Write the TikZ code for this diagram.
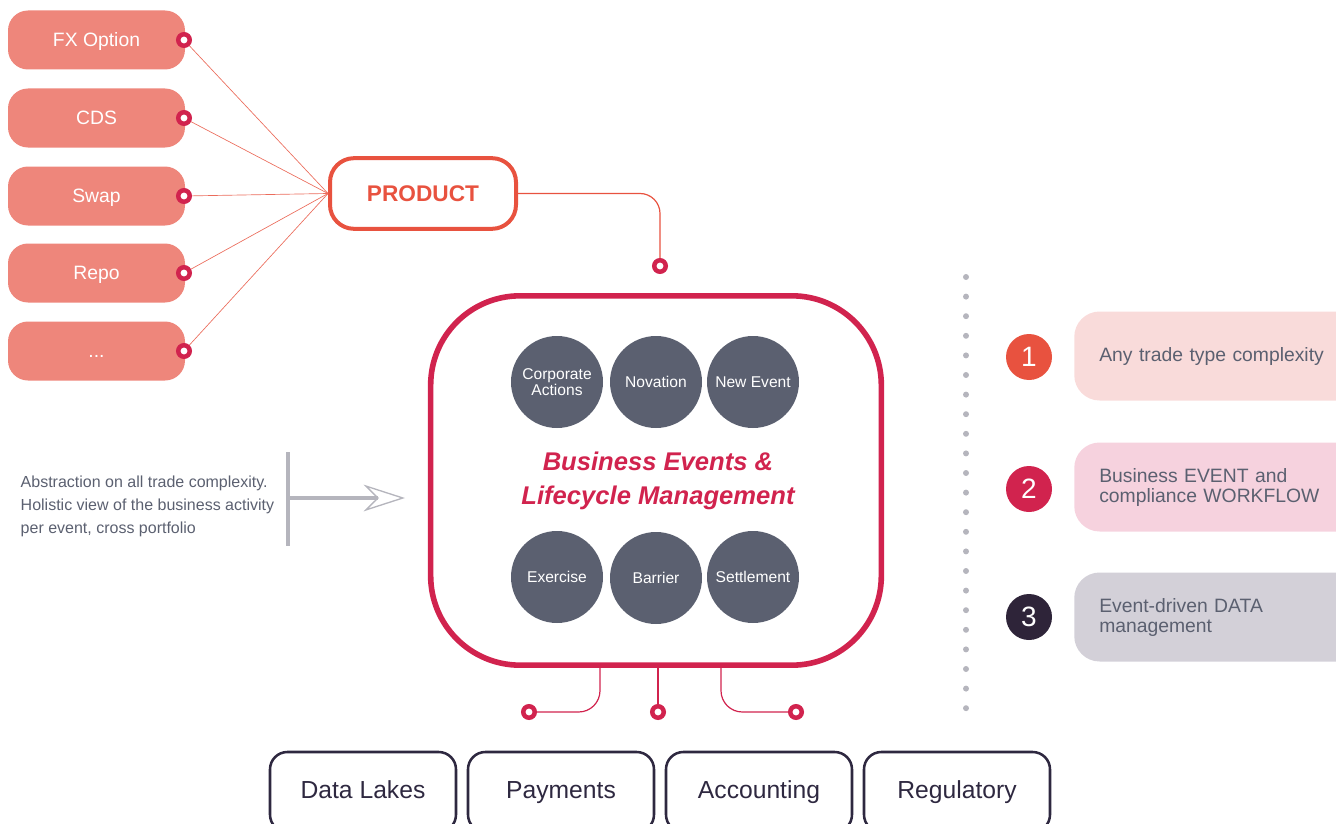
\documentclass[tikz,border=0pt]{standalone}
\usepackage{fontspec}
\setmainfont{Liberation Sans}
\usetikzlibrary{arrows.meta,calc}

\definecolor{pillred}{RGB}{238,134,123}
\definecolor{prodred}{RGB}{232,82,63}
\definecolor{crimson}{RGB}{209,35,78}
\definecolor{slate}{RGB}{91,96,112}
\definecolor{ink}{RGB}{46,40,64}
\definecolor{plum}{RGB}{46,36,57}
\definecolor{barg}{RGB}{181,181,189}
\definecolor{noteA}{RGB}{249,219,218}
\definecolor{noteB}{RGB}{246,210,222}
\definecolor{noteC}{RGB}{211,208,216}

\tikzset{
  pill/.style={fill=pillred, rounded corners=15pt, minimum width=132.75pt,
    minimum height=44.25pt, text=white, text height=12pt, text depth=2pt,
    font=\fontsize{14.5}{18}\selectfont},
  pin/.style={circle, draw=crimson, fill=white, line width=3.4pt,
    minimum size=8.6pt, inner sep=0pt},
  feed/.style={draw=prodred!85, line width=0.5pt},
  wire/.style={draw=crimson, line width=0.9pt},
  event/.style={circle, fill=slate, minimum size=69pt, inner sep=0pt,
    text=white, align=center, font=\fontsize{11.7}{11.5}\selectfont},
  sink/.style={draw=ink, line width=1.9pt, rounded corners=13pt,
    minimum width=139.5pt, minimum height=60pt, text=ink,
    text height=13pt, text depth=3.5pt, font=\fontsize{18.5}{20}\selectfont},
  badge/.style={circle, minimum size=34.5pt, inner sep=0pt, text=white,
    font=\fontsize{21}{21}\selectfont},
  note/.style={anchor=west, rounded corners=19pt, minimum height=66.75pt,
    text width=187.5pt, inner xsep=18.75pt, align=left, text=slate,
    font=\fontsize{14.5}{15}\selectfont},
}

\begin{document}
\begin{tikzpicture}[x=0.75pt,y=0.75pt,yscale=-1,xscale=1]
\useasboundingbox (0,0) rectangle (1336,824);

% product pills and their pins
\foreach \name/\txt/\y in {fx/FX Option/40, cds/CDS/118, swap/Swap/196, repo/Repo/273}{
  \node[pill] (\name) at (96.5,\y) {\txt};
}
\node[pill] (more) at (96.5,351) {.\kern0pt.\kern0pt.};

% product box
\node[draw=prodred, line width=3pt, rounded corners=18pt, minimum width=139.5pt,
  minimum height=53pt, text=prodred, font=\fontsize{17}{20}\selectfont\bfseries]
  (prod) at (423,193.5) {PRODUCT};

\foreach \name/\y in {fx/40, cds/118, swap/196, repo/273, more/351}{
  \node[pin] (\name pin) at (184,\y) {};
  \draw[feed] (\name pin) -- (prod.west);
}

% core box with the events
\node[draw=crimson, line width=4.2pt, rounded corners=67pt, minimum width=338pt,
  minimum height=277pt] (core) at (656,480.5) {};

\node[event] (corp) at (557,382) {Corporate\\Actions};
\node[event] (nov) at (656,382) {Novation};
\node[event] (new) at (753,382) {New Event};
\node[event] (exer) at (557,577) {Exercise};
\node[event] (barr) at (656,578) {Barrier};
\node[event] (settle) at (753,577) {Settlement};

\node[text=crimson, align=center, font=\fontsize{19.2}{26}\selectfont\bfseries\itshape]
  (title) at (658,481) {Business Events \&\\Lifecycle Management};

% wire from product into core
\node[pin] (inpin) at (660,266) {};
\draw[wire, draw=prodred, rounded corners=15pt] (prod.east) -| (inpin.north);

% wires out of the core
\coordinate (tapL) at (600,665);
\coordinate (tapR) at (721,665);
\node[pin] (lakepin) at (529,712) {};
\node[pin] (paypin) at (658,712) {};
\node[pin] (accpin) at (796,712) {};
\draw[wire, rounded corners=16pt] (tapL) |- (lakepin.east);
\draw[wire] (paypin.north |- core.south) -- (paypin.north);
\draw[wire, rounded corners=16pt] (tapR) |- (accpin.west);

% downstream boxes
\node[sink] (lakes) at (363,792) {Data Lakes};
\node[sink] (pay) at (561,792) {Payments};
\node[sink] (acc) at (759,792) {Accounting};
\node[sink] (reg) at (957,792) {Regulatory};

% abstraction note with arrow
\node[anchor=west, align=left, text=slate, font=\fontsize{12}{17.25}\selectfont]
  (abs) at (16,506) {Abstraction on all trade complexity.\\Holistic view of the business activity\\per event, cross portfolio};
\coordinate (barT) at (288,452);
\coordinate (barB) at (288,546);
\draw[barg, line width=2.3pt] (barT) -- (barB);
\draw[barg, line width=2.3pt, -{Stealth[open, length=31pt, width=20pt, inset=10pt, line width=1pt]}]
  (288,498) -- (405,498);

% dotted divider
\foreach \i in {0,...,22}
  \fill[barg] (966,{277+19.6*\i}) circle (3);

% numbered notes
\node[badge, fill=prodred] (one) at (1029,357) {1};
\node[badge, fill=crimson] (two) at (1029,489) {2};
\node[badge, fill=plum] (three) at (1029,617) {3};

\node[note, fill=noteA] (anyt) at (1074,356) {\raisebox{-4pt}{Any trade type complexity}};
\node[note, fill=noteB] (evwf) at (1074,487) {Business EVENT and\\compliance WORKFLOW};
\node[note, fill=noteC] (data) at (1074,617) {Event-driven DATA\\management};

\end{tikzpicture}
\end{document}
